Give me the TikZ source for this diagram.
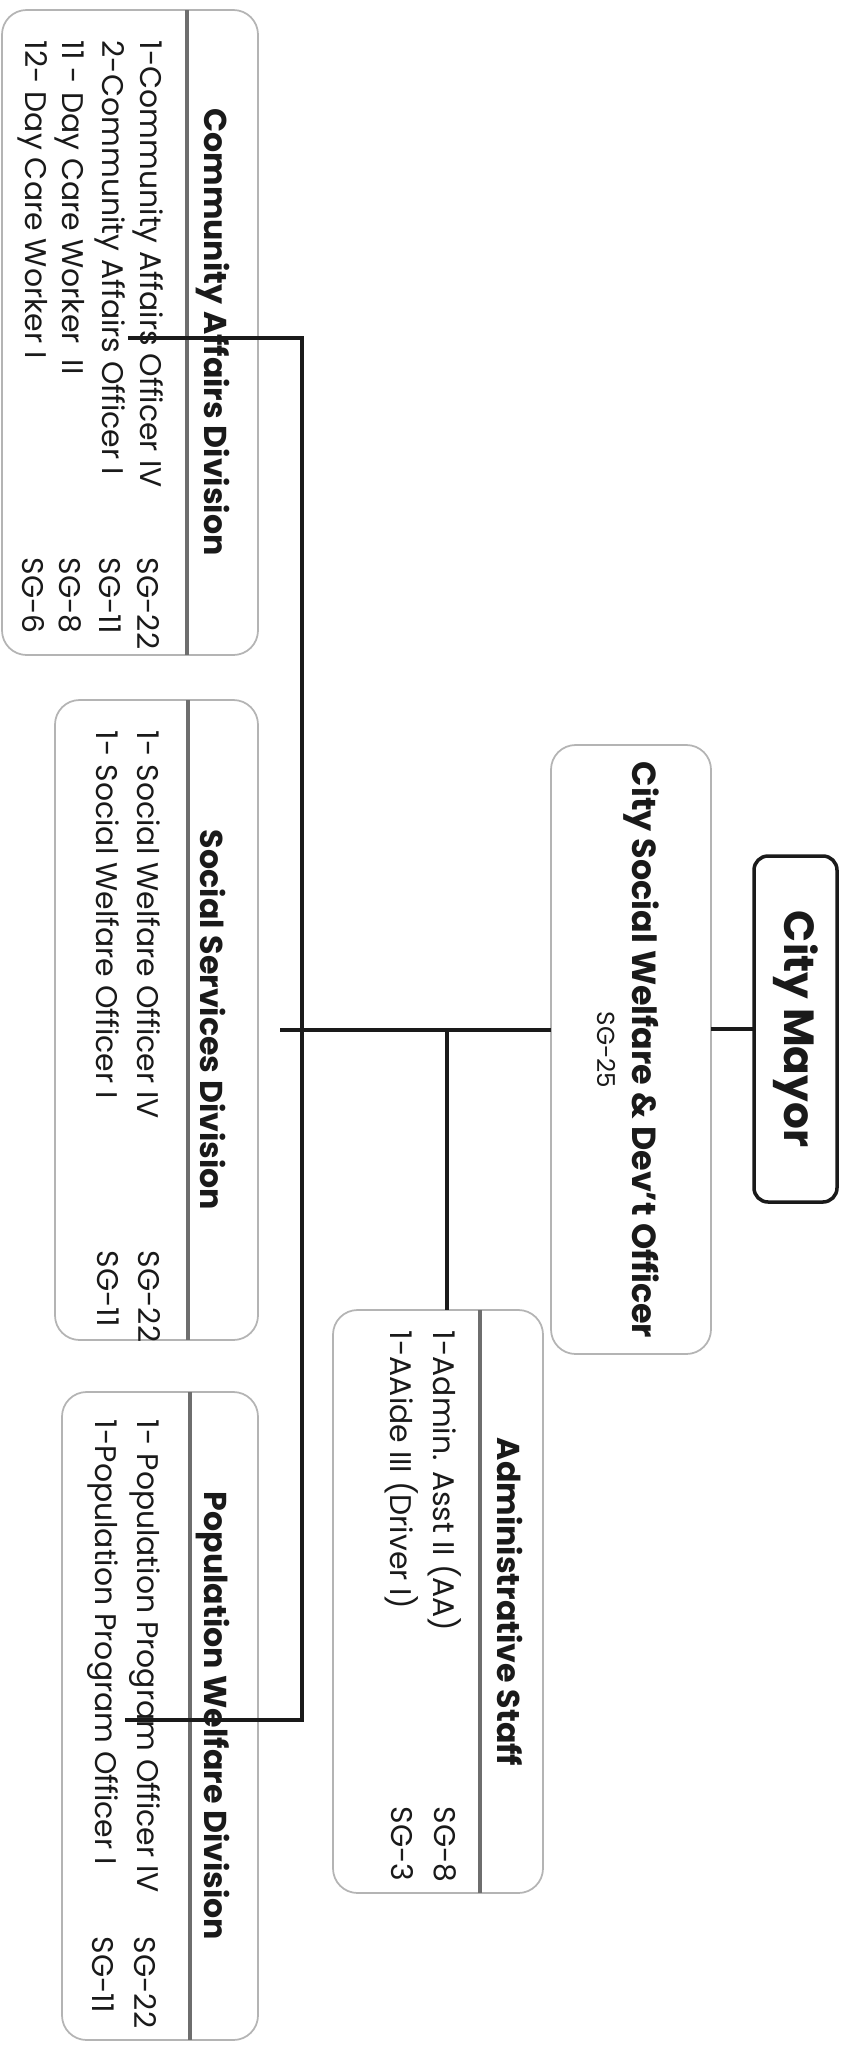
\documentclass[tikz,border=0pt]{standalone}
\usepackage{fontspec}
\setmainfont{Poppins}
\usepackage{tikz}
\usepackage{xcolor}
\definecolor{ink}{HTML}{1a1a1a}
\definecolor{boxline}{HTML}{b4b4b4}
\definecolor{ruleline}{HTML}{6e6e6e}

\begin{document}
\begin{tikzpicture}[
      mayorbox/.style={draw=ink, line width=1pt, rounded corners=4pt, inner sep=0pt, outer sep=0pt},
      softbox/.style={draw=boxline, line width=0.5pt, rounded corners=7pt, inner sep=0pt, outer sep=0pt},
      ruler/.style={draw=ruleline, line width=0.9pt},
      link/.style={draw=ink, line width=1.1pt},
      mayortext/.style={rotate=-90, font=\fontsize{12}{14}\selectfont\bfseries, text=ink, inner sep=0pt},
      headtext/.style={rotate=-90, font=\fontsize{9}{11}\selectfont\bfseries, text=ink, inner sep=0pt},
      gradetext/.style={rotate=-90, font=\fontsize{7}{8}\selectfont, text=ink, inner sep=0pt},
      rowtext/.style={rotate=-90, anchor=west, font=\fontsize{8.5}{10}\selectfont, text=ink, inner sep=0pt}]

      \useasboundingbox (0,0) rectangle (8.5,-20.55);

      % --- Top level ---
      \node[mayorbox, minimum width=0.83cm, minimum height=3.46cm] (mayor) at (7.955,-10.29) {};
      \node[mayortext] (mayorTitle) at (mayor.center) {City Mayor};

      \node[softbox, minimum width=1.60cm, minimum height=6.09cm] (officer) at (6.31,-10.495) {};
      \node[headtext, font=\fontsize{9.5}{11}\selectfont\bfseries] (officerTitle) at (6.41,-10.50) {City Social Welfare \& Dev't Officer};
      \node[gradetext] (officerGrade) at (6.06,-10.50) {SG-25};

      % --- Administrative Staff ---
      \node[softbox, minimum width=2.10cm, minimum height=5.83cm] (admin) at (4.38,-16.015) {};
      \draw[ruler] (4.80,-13.10) -- (4.80,-18.93);
      \node[headtext] (adminTitle) at (5.10,-16.02) {Administrative Staff};
      \node[rowtext] (adminRow1) at (4.45,-13.30) {1-Admin. Asst II (AA)};
      \node[rowtext] (adminGrade1) at (4.45,-18.06) {SG-8};
      \node[rowtext] (adminRow2) at (4.02,-13.30) {1-AAide III (Driver I)};
      \node[rowtext] (adminGrade2) at (4.02,-18.06) {SG-3};

      % --- Community Affairs Division ---
      \node[softbox, minimum width=2.56cm, minimum height=6.45cm] (community) at (1.30,-3.325) {};
      \draw[ruler] (1.87,-0.10) -- (1.87,-6.55);
      \node[headtext] (comTitle) at (2.13,-3.32) {Community Affairs Division};
      \node[rowtext] (comRow1) at (1.48,-0.40) {1-Community Affairs Officer IV};
      \node[rowtext] (comGrade1) at (1.48,-5.57) {SG-22};
      \node[rowtext] (comRow2) at (1.10,-0.40) {2-Community Affairs Officer I};
      \node[rowtext] (comGrade2) at (1.10,-5.57) {SG-11};
      \node[rowtext] (comRow3) at (0.70,-0.40) {11 - Day Care Worker\ \ II};
      \node[rowtext] (comGrade3) at (0.70,-5.57) {SG-8};
      \node[rowtext] (comRow4) at (0.33,-0.40) {12- Day Care Worker I};
      \node[rowtext] (comGrade4) at (0.33,-5.57) {SG-6};

      % --- Social Services Division ---
      \node[softbox, minimum width=2.03cm, minimum height=6.40cm] (social) at (1.565,-10.20) {};
      \draw[ruler] (1.88,-7.00) -- (1.88,-13.40);
      \node[headtext] (socTitle) at (2.13,-10.20) {Social Services Division};
      \node[rowtext] (socRow1) at (1.49,-7.30) {1- Social Welfare Officer IV};
      \node[rowtext] (socGrade1) at (1.49,-12.50) {SG-22};
      \node[rowtext] (socRow2) at (1.08,-7.30) {1- Social Welfare Officer I};
      \node[rowtext] (socGrade2) at (1.08,-12.50) {SG-11};

      % --- Population Welfare Division ---
      \node[softbox, minimum width=1.96cm, minimum height=6.48cm] (population) at (1.60,-17.16) {};
      \draw[ruler] (1.90,-13.92) -- (1.90,-20.40);
      \node[headtext] (popTitle) at (2.13,-17.16) {Population Welfare Division};
      \node[rowtext] (popRow1) at (1.45,-14.19) {1- Population Program Officer IV};
      \node[rowtext] (popGrade1) at (1.45,-19.36) {SG-22};
      \node[rowtext] (popRow2) at (1.03,-14.19) {1-Population Program Officer I};
      \node[rowtext] (popGrade2) at (1.03,-19.36) {SG-11};

      % --- Connectors ---
      \coordinate (hub) at (2.80,-10.30);
      \coordinate (adminJoin) at (4.47,-10.30);
      \coordinate (busTop) at (3.02,-3.38);
      \coordinate (busEnd) at (3.02,-17.20);
      \coordinate (comTip) at (1.28,-3.38);
      \coordinate (popTip) at (1.25,-17.20);

      \draw[link] (mayor.west) -- (officer.east |- mayor.west);
      \draw[link] (officer.west |- hub) -- (hub);
      \draw[link] (adminJoin) -- (adminJoin |- admin.north);
      \draw[link] (comTip) -- (busTop) -- (busEnd) -- (popTip);

    \end{tikzpicture}
\end{document}
